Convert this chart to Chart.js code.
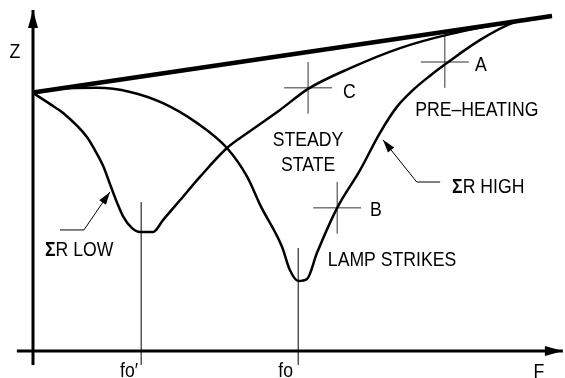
<!DOCTYPE html>
<html>
<head>
<meta charset="utf-8">
<script src="https://cdn.jsdelivr.net/npm/chart.js@4/dist/chart.umd.min.js"></script>
<style>
  html, body { margin: 0; padding: 0; background: #fff; }
  canvas { display: block; }
</style>
</head>
<body>
<canvas id="graph" width="565" height="378"></canvas>
<script>
// impedance Z against frequency F, arbitrary units 0..10 on both axes
var lowF  = [0, 0.33, 0.58, 1.04, 1.19, 1.35, 1.48, 1.62, 1.73, 1.90, 2.06, 2.31, 2.50, 2.83, 3.21, 3.73, 4.12, 4.75, 5.29, 6.10, 7.06, 8.02, 9.23, 9.98];
var lowZ  = [7.59, 7.26, 7.0, 6.29, 5.91, 5.44, 4.91, 4.35, 3.97, 3.62, 3.50, 3.50, 3.85, 4.44, 5.12, 5.97, 6.41, 7.09, 7.71, 8.32, 8.91, 9.32, 9.68, 9.85];

var highF = [0, 0.52, 1.23, 1.87, 2.50, 3.15, 3.73, 4.12, 4.37, 4.79, 4.94, 5.10, 5.27, 5.46, 5.85, 6.29, 6.67, 6.998, 7.31, 7.63, 7.96, 8.60, 9.23, 9.98];
var highZ = [7.59, 7.71, 7.74, 7.62, 7.29, 6.71, 5.97, 5.12, 4.29, 3.06, 2.38, 2.06, 2.12, 2.88, 4.21, 5.32, 6.41, 7.18, 7.68, 8.09, 8.47, 9.15, 9.65, 9.85];

var limitF = [0, 9.98];
var limitZ = [7.6, 9.85];

var markF = [2.08, 5.10];          // fo', fo
var markTopZ = [4.38, 3.03];
var markNames = ["fo\u2032", "fo"];

var crossF = [5.29, 5.85, 7.92];
var crossZ = [7.74, 4.21, 8.50];
var crossNames = ["C", "B", "A"];

var axisF = [-0.31, 10.19];
var axisZ = [-0.41, 10.03];

var black = "#000";
var grey = "#333";
var font = '"Liberation Sans", Arial, sans-serif';
var squeeze = 0.84;   // condensed look of the original lettering

function pts(fs, zs) {
  return fs.map(function (f, i) { return { x: f, y: zs[i] }; });
}

function line(data, width, color, smooth) {
  return {
    data: data,
    showLine: true,
    borderColor: color,
    backgroundColor: color,
    borderWidth: width,
    pointRadius: 0,
    clip: false,
    cubicInterpolationMode: smooth ? "monotone" : "default",
    tension: 0
  };
}

var datasets = [
  line(pts(axisF, [0, 0]), 3, black),
  line(pts([0, 0], axisZ), 3, black),
  line(pts(limitF, limitZ), 4.5, black),
  line(pts(lowF, lowZ), 2.5, black, true),
  line(pts(highF, highZ), 2.5, black, true)
];

markF.forEach(function (f, i) {
  datasets.push(line(pts([f, f], [axisZ[0], markTopZ[i]]), 1, black));
});

crossF.forEach(function (f, i) {
  var z = crossZ[i];
  datasets.push(line(pts([f - 0.46, f + 0.46], [z, z]), 1, grey));
  datasets.push(line(pts([f, f], [z - 0.76, z + 0.76]), 1, grey));
});

// leader lines, last point is the arrow tip
var leaderLow = pts([0.52, 0.98, 1.48], [3.56, 3.56, 4.68]);
var leaderHigh = pts([7.83, 7.38, 6.73], [4.97, 4.97, 6.21]);
datasets.push(line(leaderLow, 1, black));
datasets.push(line(leaderHigh, 1, black));

var notes = [
  { text: "Z", f: -0.35, z: 8.79, align: "center" },
  { text: "F", f: 9.73, z: -0.62, align: "center" },
  { text: markNames[0], f: 2.02, z: -0.59, align: "right" },
  { text: markNames[1], f: 5.0, z: -0.59, align: "right" },
  { text: crossNames[0], f: 5.96, z: 7.62, align: "left" },
  { text: crossNames[1], f: 6.48, z: 4.15, align: "left" },
  { text: crossNames[2], f: 8.50, z: 8.41, align: "left" },
  { text: "STEADY", f: 5.29, z: 6.21, align: "center" },
  { text: "STATE", f: 5.29, z: 5.47, align: "center" },
  { text: "LAMP STRIKES", f: 5.67, z: 2.68, align: "left" },
  { text: "PRE\u2013HEATING", f: 7.35, z: 7.09, align: "left" },
  { text: "\u03A3R HIGH", f: 8.06, z: 4.82, align: "left" },
  { text: "\u03A3R LOW", f: 0.23, z: 2.97, align: "left" }
];

function arrowHead(c, tip, from, len, half) {
  var dx = tip.x - from.x, dy = tip.y - from.y;
  var d = Math.sqrt(dx * dx + dy * dy);
  var ux = dx / d, uy = dy / d;
  var bx = tip.x - ux * len, by = tip.y - uy * len;
  c.beginPath();
  c.moveTo(tip.x, tip.y);
  c.lineTo(bx - uy * half, by + ux * half);
  c.lineTo(bx + uy * half, by - ux * half);
  c.closePath();
  c.fill();
}

var notesPlugin = {
  id: "notes",
  afterDatasetsDraw: function (chart) {
    var c = chart.ctx;
    var sx = chart.scales.x, sy = chart.scales.y;
    function px(f, z) { return { x: sx.getPixelForValue(f), y: sy.getPixelForValue(z) }; }
    c.save();
    c.fillStyle = black;

    arrowHead(c, px(axisF[1], 0), px(axisF[0], 0), 18, 5);
    arrowHead(c, px(0, axisZ[1]), px(0, axisZ[0]), 18, 5);
    [leaderLow, leaderHigh].forEach(function (l) {
      var n = l.length;
      arrowHead(c, px(l[n - 1].x, l[n - 1].y), px(l[n - 2].x, l[n - 2].y), 13, 4);
    });

    c.textBaseline = "middle";
    notes.forEach(function (n) {
      var p = px(n.f, n.z);
      var t = n.text;
      c.save();
      c.translate(p.x, p.y);
      c.scale(squeeze, 1);
      if (t.charAt(0) === "\u03A3") {
        c.textAlign = "left";
        c.font = "bold 21px " + font;
        c.fillText("\u03A3", 0, 0);
        var w = c.measureText("\u03A3").width;
        c.font = "21px " + font;
        c.fillText(t.slice(1), w, 0);
      } else {
        c.textAlign = n.align;
        c.font = "21px " + font;
        c.fillText(t, 0, 0);
      }
      c.restore();
    });
    c.restore();
  }
};

new Chart(document.getElementById("graph"), {
  type: "scatter",
  data: { datasets: datasets },
  options: {
    responsive: false,
    animation: false,
    layout: { padding: { left: 33, right: 12, top: 11, bottom: 27 } },
    scales: {
      x: { type: "linear", min: 0, max: 10, display: false },
      y: { type: "linear", min: 0, max: 10, display: false }
    },
    plugins: {
      legend: { display: false },
      tooltip: { enabled: false }
    }
  },
  plugins: [notesPlugin]
});
</script>
</body>
</html>
